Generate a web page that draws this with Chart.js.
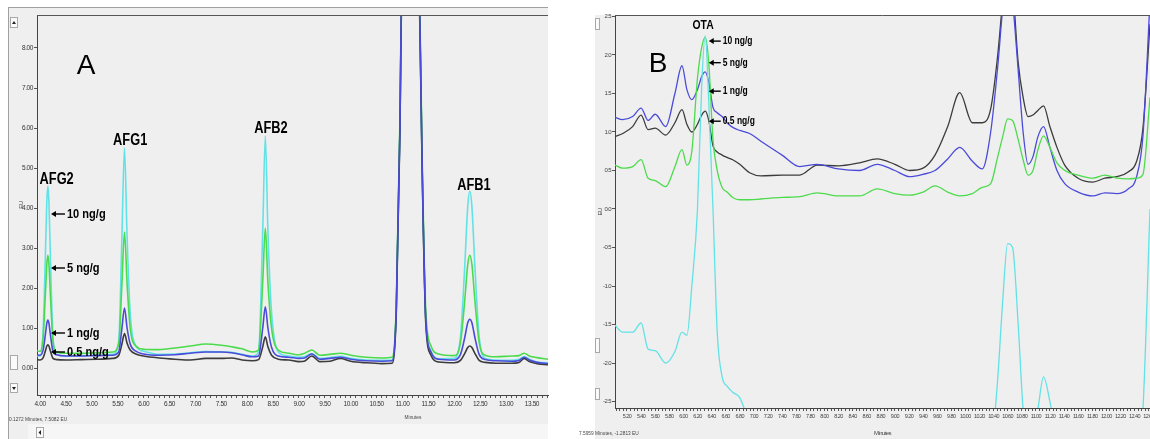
<!DOCTYPE html>
<html>
<head>
<meta charset="utf-8">
<script src="https://cdn.jsdelivr.net/npm/chart.js@4.4.1/dist/chart.umd.min.js"></script>
<style>
html, body { margin: 0; padding: 0; background: #fff; }
body { width: 1150px; height: 439px; position: relative; overflow: hidden; }
canvas { position: absolute; top: 0; }
#chartA { left: 0; }
#chartB { left: 560px; }
</style>
</head>
<body>
<canvas id="chartA" width="560" height="439"></canvas>
<canvas id="chartB" width="590" height="439"></canvas>
<script>
// ---------- panel A : aflatoxins (minutes / EU) ----------
var timeA = [3.94, 4.00, 4.06, 4.10, 4.13, 4.15, 4.17, 4.20, 4.25, 4.32,
             4.50, 4.80, 5.10, 5.40, 5.52, 5.58, 5.63, 5.68, 5.74, 5.85,
             6.00, 6.30, 6.60, 6.90, 7.20, 7.50, 7.70, 7.90, 8.10, 8.22,
             8.30, 8.35, 8.40, 8.47, 8.60, 8.80, 9.00, 9.10, 9.25, 9.40,
             9.60, 9.80, 10.00, 10.30, 10.60, 10.80, 10.88, 10.95, 11.00, 11.15,
             11.30, 11.38, 11.45, 11.55, 11.70, 12.00, 12.12, 12.20, 12.26, 12.30,
             12.34, 12.40, 12.48, 12.60, 12.80, 13.10, 13.25, 13.35, 13.45, 13.60,
             13.81];
var a10 = [.30, .30, .98, 2.72, 4.17, 4.55, 4.17, 2.72, .73, .34,
           .30, .31, .32, .34, .70, 3.28, 5.50, 3.28, 1.38, .55,
           .42, .34, .35, .38, .41, .40, .39, .34, .30, .40,
           3.43, 5.80, 3.43, 1.40, .40, .30, .27, .28, .36, .24,
           .26, .29, .24, .20, .19, .20, 1.5, 6.0, 11.3, 14,
           11.3, 5.0, 1.2, .42, .23, .24, .79, 2.49, 4.04, 4.42,
           4.04, 2.49, .79, .24, .20, .19, .22, .28, .22, .15,
           .13];
var a5 = [.43, .42, .80, 1.79, 2.60, 2.82, 2.60, 1.79, .65, .40,
          .37, .37, .38, .40, .61, 2.11, 3.40, 2.11, 1.00, .55,
          .47, .46, .50, .55, .60, .57, .53, .48, .40, .45,
          2.15, 3.50, 2.15, 1.00, .45, .37, .33, .36, .45, .32,
          .34, .37, .32, .27, .25, .27, 1.6, 6.2, 11.5, 14,
          11.5, 5.2, 1.4, .55, .35, .31, .64, 1.66, 2.59, 2.82,
          2.59, 1.66, .64, .32, .28, .30, .31, .37, .30, .26,
          .22];
var a1 = [.33, .32, .46, .82, 1.12, 1.20, 1.12, .82, .41, .33,
          .30, .30, .31, .32, .41, .99, 1.50, 1.00, .60, .42,
          .35, .32, .33, .37, .40, .40, .38, .33, .28, .30,
          1.00, 1.53, 1.00, .52, .30, .27, .24, .25, .35, .22,
          .24, .27, .22, .18, .17, .18, 1.5, 6.0, 11.3, 14,
          11.3, 5.0, 1.2, .40, .22, .20, .34, .75, 1.13, 1.22,
          1.13, .75, .34, .21, .18, .17, .19, .27, .20, .14,
          .11];
var a05 = [.21, .20, .26, .42, .55, .58, .55, .42, .24, .21,
           .20, .21, .22, .24, .32, .60, .86, .62, .45, .35,
           .30, .25, .22, .20, .24, .24, .25, .20, .18, .21,
           .53, .78, .53, .32, .22, .20, .16, .17, .30, .16,
           .17, .24, .17, .13, .11, .12, 1.4, 5.9, 11.2, 14,
           11.2, 4.9, 1.1, .32, .15, .13, .19, .36, .51, .55,
           .51, .36, .19, .14, .12, .12, .14, .24, .16, .11,
           .08];
var yTicksA = [0, 1, 2, 3, 4, 5, 6, 7, 8];
var xLabelsA = ['4.00', '4.50', '5.00', '5.50', '6.00', '6.50', '7.00', '7.50', '8.00', '8.50',
                '9.00', '9.50', '10.00', '10.50', '11.00', '11.50', '12.00', '12.50', '13.00', '13.50'];

// ---------- panel B : ochratoxin A ----------
var timeB = [5.03, 5.14, 5.28, 5.40, 5.50, 5.60, 5.75, 5.88, 5.98, 6.05,
             6.12, 6.20, 6.26, 6.31, 6.36, 6.42, 6.48, 6.55, 6.62, 6.70,
             6.80, 6.94, 7.10, 7.40, 7.65, 7.90, 8.20, 8.50, 8.75, 9.00,
             9.21, 9.40, 9.57, 9.75, 9.92, 10.10, 10.24, 10.36, 10.46, 10.53,
             10.60, 10.67, 10.75, 10.82, 10.89, 10.96, 11.03, 11.11, 11.20, 11.30,
             11.41, 11.60, 11.81, 11.98, 12.15, 12.31, 12.43, 12.52, 12.62];
var b10 = [-1.51, -1.60, -1.60, -1.48, -1.82, -1.84, -2.00, -1.85, -1.60, -1.64,
           -1.00, 0.00, 1.60, 2.25, 1.40, 0.00, -1.60, -2.18, -2.30, -2.38,
           -2.45, -2.80, -3.20, -3.50, -3.50, -3.50, -3.50, -3.50, -3.50, -3.50,
           -3.50, -3.50, -3.50, -3.50, -3.50, -3.50, -3.50, -3.20, -2.20, -1.20,
           -0.45, -0.50, -1.50, -2.60, -3.00, -3.00, -2.60, -2.18, -2.50, -3.00,
           -3.50, -3.50, -3.50, -3.50, -3.50, -3.50, -3.20, -2.60, 0.00];
var b5 = [.57, .53, .55, .64, .40, .37, .29, .55, .77, .57,
          .75, 1.70, 2.10, 2.23, 1.90, .90, .50, .28, .22, .15,
          .12, .12, .13, .15, .16, .21, .17, .17, .26, .20,
          .18, .22, .30, .22, .17, .20, .28, .33, .68, .94,
          1.17, 1.15, .90, .64, .44, .50, .77, .95, .80, .60,
          .50, .44, .40, .44, .40, .39, .40, .45, 1.45];
var b1 = [1.19, 1.16, 1.20, 1.31, 1.15, 1.23, 1.07, 1.50, 1.86, 1.55,
          1.42, 1.55, 1.72, 1.78, 1.65, 1.32, 1.25, 1.20, 1.12, 1.06,
          1.02, .98, .88, .70, .55, .58, .52, .50, .58, .50,
          .42, .45, .50, .65, .80, .62, .52, 1.00, 1.85, 2.60,
          3.10, 2.70, 1.80, 1.00, .58, .68, .94, 1.07, .80, .50,
          .33, .22, .17, .21, .20, .26, .42, .95, 2.70];
var b05 = [.94, .98, 1.07, 1.22, 1.03, 1.05, .96, 1.12, 1.29, 1.10,
           1.00, 1.10, 1.22, 1.27, 1.15, .82, .74, .70, .67, .64,
           .58, .47, .43, .44, .44, .57, .56, .60, .65, .58,
           .50, .53, .70, 1.07, 1.51, 1.12, 1.12, 1.30, 2.00, 2.70,
           3.20, 2.90, 1.90, 1.45, 1.20, 1.22, 1.28, 1.34, 1.07, .80,
           .57, .40, .35, .40, .42, .48, .62, 1.05, 2.40];
var yTicksB = [-2.5, -2, -1.5, -1, -0.5, 0, 0.5, 1, 1.5, 2, 2.5];
var xLabelsB = ['5.20', '5.40', '5.60', '5.80', '6.00', '6.20', '6.40', '6.60', '6.80', '7.00',
                '7.20', '7.40', '7.60', '7.80', '8.00', '8.20', '8.40', '8.60', '8.80', '9.00',
                '9.20', '9.40', '9.60', '9.80', '10.00', '10.20', '10.40', '10.60', '10.80', '11.00',
                '11.20', '11.40', '11.60', '11.80', '12.00', '12.20', '12.40', '12.60'];

// peak names and concentration arrows, placed in data units
var SANS = "'Liberation Sans', Arial, sans-serif";
var peaksA = [
  { text: 'A', t: 4.89, v: 7.55, font: '28px ' + SANS, sx: 1 },
  { text: 'AFG2', t: 4.32, v: 4.70, font: 'bold 16px ' + SANS, sx: 0.8 },
  { text: 'AFG1', t: 5.74, v: 5.68, font: 'bold 16px ' + SANS, sx: 0.8 },
  { text: 'AFB2', t: 8.46, v: 5.98, font: 'bold 16px ' + SANS, sx: 0.8 },
  { text: 'AFB1', t: 12.38, v: 4.55, font: 'bold 16px ' + SANS, sx: 0.8 }
];
var arrowsA = [
  { text: '10 ng/g', t: 4.21, v: 3.85 },
  { text: '5 ng/g', t: 4.21, v: 2.50 },
  { text: '1 ng/g', t: 4.21, v: 0.875 },
  { text: '0.5 ng/g', t: 4.21, v: 0.40 }
];
var peaksB = [
  { text: 'B', t: 5.64, v: 1.88, font: '28px ' + SANS, sx: 1 },
  { text: 'OTA', t: 6.28, v: 2.39, font: 'bold 13px ' + SANS, sx: 0.8 }
];
var arrowsB = [
  { text: '10 ng/g', t: 6.36, v: 2.18 },
  { text: '5 ng/g', t: 6.36, v: 1.90 },
  { text: '1 ng/g', t: 6.36, v: 1.53 },
  { text: '0.5 ng/g', t: 6.36, v: 1.14 }
];

var CYAN = '#62e2e6', GREEN = '#4cdb4c', BLUE = '#4b4bd9', BLACK = '#3c3c3c';

function pts(xs, ys) {
  return xs.map(function (x, i) { return { x: x, y: ys[i] }; });
}

function series(label, xs, ys, color, order, w) {
  return {
    label: label, data: pts(xs, ys), borderColor: color, backgroundColor: color,
    borderWidth: w, pointRadius: 0, fill: false, cubicInterpolationMode: 'monotone', order: order
  };
}

// condensed text: the screenshots use a narrow face, squeeze a normal one
function squeeze(c, text, x, y, sx) {
  c.save();
  c.translate(x, y);
  c.scale(sx, 1);
  c.fillText(text, 0, 0);
  c.restore();
}

function drawNotes(chart, peaks, arrows, font, sx, len) {
  var c = chart.ctx, xs = chart.scales.x, ys = chart.scales.y;
  c.save();
  c.letterSpacing = '0px';
  c.fillStyle = '#000';
  c.strokeStyle = '#000';
  c.textAlign = 'center';
  c.textBaseline = 'middle';
  peaks.forEach(function (p) {
    c.font = p.font;
    squeeze(c, p.text, xs.getPixelForValue(p.t), ys.getPixelForValue(p.v), p.sx);
  });
  c.font = font;
  c.textAlign = 'left';
  c.lineWidth = 1.4;
  arrows.forEach(function (a) {
    var x = xs.getPixelForValue(a.t), y = ys.getPixelForValue(a.v);
    c.beginPath(); c.moveTo(x + 3, y); c.lineTo(x + len, y); c.stroke();
    c.beginPath(); c.moveTo(x, y); c.lineTo(x + 5, y - 3); c.lineTo(x + 5, y + 3); c.closePath(); c.fill();
    squeeze(c, a.text, x + len + 2, y + 0.5, sx);
  });
  c.restore();
}

function button(c, x, y, w, h) {
  c.fillStyle = '#fafafa';
  c.fillRect(x, y, w, h);
  c.strokeStyle = '#a8a8a8';
  c.strokeRect(x + 0.5, y + 0.5, w - 1, h - 1);
}

function tickList(from, to, step) {
  var out = [];
  for (var k = Math.round(from / step); k * step <= to + 1e-9; k++) out.push(Math.round(k * step * 100) / 100);
  return out;
}

Chart.defaults.font.family = SANS;
Chart.defaults.color = '#333';

// ---------- chart A ----------
var chromeA = {
  id: 'chromeA',
  beforeDraw: function (chart) {
    var c = chart.ctx;
    c.save();
    c.fillStyle = '#fff'; c.fillRect(0, 0, chart.width, chart.height);
    c.fillStyle = '#efefef'; c.fillRect(8, 8, 540, 431);
    c.fillStyle = '#f6f6f6'; c.fillRect(28, 424, 520, 15);
    c.strokeStyle = '#a0a0a0'; c.lineWidth = 1;
    c.beginPath(); c.moveTo(8, 7.5); c.lineTo(548, 7.5); c.moveTo(8.5, 8); c.lineTo(8.5, 439); c.stroke();
    button(c, 10, 17, 8, 11);
    button(c, 10, 355, 8, 15);
    button(c, 10, 383, 8, 10);
    button(c, 36, 427, 8, 11);
    c.fillStyle = '#222';
    c.beginPath(); c.moveTo(12, 24); c.lineTo(16, 24); c.lineTo(14, 21); c.fill();
    c.beginPath(); c.moveTo(12, 387); c.lineTo(16, 387); c.lineTo(14, 390); c.fill();
    c.beginPath(); c.moveTo(41, 430); c.lineTo(41, 435); c.lineTo(38.5, 432.5); c.fill();
    c.fillStyle = '#444';
    c.font = '6px ' + SANS;
    c.textBaseline = 'middle';
    c.textAlign = 'left';
    squeeze(c, '0.1272 Minutes, 7.5082 EU', 9, 419, 0.8);
    c.textAlign = 'center';
    squeeze(c, 'Minutes', 413, 417, 0.8);
    c.restore();
    c.letterSpacing = '-0.4px';
  },
  afterDraw: function (chart) {
    var c = chart.ctx, a = chart.chartArea;
    c.save();
    c.strokeStyle = '#555'; c.lineWidth = 1;
    c.beginPath(); c.moveTo(a.left, a.top + 0.5); c.lineTo(a.right, a.top + 0.5); c.stroke();
    c.restore();
    drawNotes(chart, peaksA, arrowsA, 'bold 13px ' + SANS, 0.85, 14);
  }
};

new Chart(document.getElementById('chartA'), {
  type: 'line',
  data: {
    datasets: [
      series('10 ng/g', timeA, a10, CYAN, 4, 1.6),
      series('5 ng/g', timeA, a5, GREEN, 3, 1.6),
      series('0.5 ng/g', timeA, a05, BLACK, 2, 1.6),
      series('1 ng/g', timeA, a1, BLUE, 1, 1.6)
    ]
  },
  options: {
    responsive: false,
    animation: false,
    devicePixelRatio: 1,
    layout: { padding: { top: 15, right: 12, left: 0, bottom: 0 } },
    plugins: { legend: { display: false }, tooltip: { enabled: false } },
    scales: {
      x: {
        type: 'linear', min: 3.94, max: 13.81,
        afterBuildTicks: function (s) { s.ticks = tickList(4.0, 13.8, 0.1).map(function (v) { return { value: v }; }); },
        ticks: {
          autoSkip: false, maxRotation: 0, minRotation: 0, padding: 2, color: '#333',
          font: { size: 6.5 },
          callback: function (v) { var s = v.toFixed(2); return xLabelsA.indexOf(s) >= 0 ? s : ''; }
        },
        grid: { drawOnChartArea: false, tickLength: 3, color: '#555' },
        border: { color: '#444' },
        afterFit: function (s) { s.height = 44; s.paddingLeft = 0; s.paddingRight = 0; }
      },
      y: {
        min: -0.675, max: 8.825,
        afterBuildTicks: function (s) { s.ticks = yTicksA.map(function (v) { return { value: v }; }); },
        ticks: { padding: 1, color: '#333', font: { size: 6.5 }, callback: function (v) { return v.toFixed(2); } },
        grid: { drawOnChartArea: false, tickLength: 3, color: '#555' },
        border: { color: '#444' },
        title: { display: true, text: 'EU', color: '#444', font: { size: 6 }, padding: { top: 18, bottom: 0 } },
        afterFit: function (s) { s.width = 37; s.paddingTop = 0; s.paddingBottom = 0; }
      }
    }
  },
  plugins: [chromeA]
});

// ---------- chart B ----------
var chromeB = {
  id: 'chromeB',
  beforeDraw: function (chart) {
    var c = chart.ctx;
    c.save();
    c.fillStyle = '#fff'; c.fillRect(0, 0, chart.width, chart.height);
    c.fillStyle = '#efefef'; c.fillRect(35, 15, 555, 424);
    button(c, 35, 18, 5, 12);
    button(c, 35, 338, 5, 15);
    button(c, 35, 388, 5, 12);
    c.fillStyle = '#444';
    c.font = '6px ' + SANS;
    c.textBaseline = 'middle';
    c.textAlign = 'left';
    squeeze(c, '7.5959 Minutes, -1.2813 EU', 19, 433, 0.8);
    c.restore();
    c.letterSpacing = '-0.6px';
  },
  afterDraw: function (chart) {
    var c = chart.ctx, a = chart.chartArea;
    c.save();
    c.strokeStyle = '#555'; c.lineWidth = 1;
    c.beginPath(); c.moveTo(a.left, a.top - 0.5); c.lineTo(a.right, a.top - 0.5); c.stroke();
    c.restore();
    drawNotes(chart, peaksB, arrowsB, 'bold 10px ' + SANS, 0.85, 12);
  }
};

new Chart(document.getElementById('chartB'), {
  type: 'line',
  data: {
    datasets: [
      series('10 ng/g', timeB, b10, CYAN, 1, 1.3),
      series('5 ng/g', timeB, b5, GREEN, 2, 1.3),
      series('1 ng/g', timeB, b1, BLUE, 3, 1.3),
      series('0.5 ng/g', timeB, b05, BLACK, 4, 1.3)
    ]
  },
  options: {
    responsive: false,
    animation: false,
    devicePixelRatio: 1,
    layout: { padding: { top: 16, right: 0, left: 0, bottom: 0 } },
    plugins: { legend: { display: false }, tooltip: { enabled: false } },
    scales: {
      x: {
        type: 'linear', min: 5.03, max: 12.62,
        afterBuildTicks: function (s) { s.ticks = tickList(5.05, 12.60, 0.05).map(function (v) { return { value: v }; }); },
        ticks: {
          autoSkip: false, maxRotation: 0, minRotation: 0, padding: 2, color: '#444',
          font: { size: 5.5 },
          callback: function (v) { var s = v.toFixed(2); return xLabelsB.indexOf(s) >= 0 ? s : ''; }
        },
        grid: { drawOnChartArea: false, tickLength: 3, color: '#555' },
        border: { color: '#444' },
        title: { display: true, text: 'Minutes', color: '#444', font: { size: 6 }, padding: { top: 0, bottom: 2 } },
        afterFit: function (s) { s.height = 31; s.paddingLeft = 0; s.paddingRight = 0; }
      },
      y: {
        min: -2.584, max: 2.506,
        afterBuildTicks: function (s) { s.ticks = yTicksB.map(function (v) { return { value: v }; }); },
        ticks: { padding: 1, color: '#444', font: { size: 6 }, callback: function (v) { return v.toFixed(1); } },
        grid: { drawOnChartArea: false, tickLength: 3, color: '#555' },
        border: { color: '#444' },
        title: { display: true, text: 'EU', color: '#444', font: { size: 6 }, padding: { top: 37, bottom: 0 } },
        afterFit: function (s) { s.width = 55; s.paddingTop = 0; s.paddingBottom = 0; }
      }
    }
  },
  plugins: [chromeB]
});
</script>
</body>
</html>
